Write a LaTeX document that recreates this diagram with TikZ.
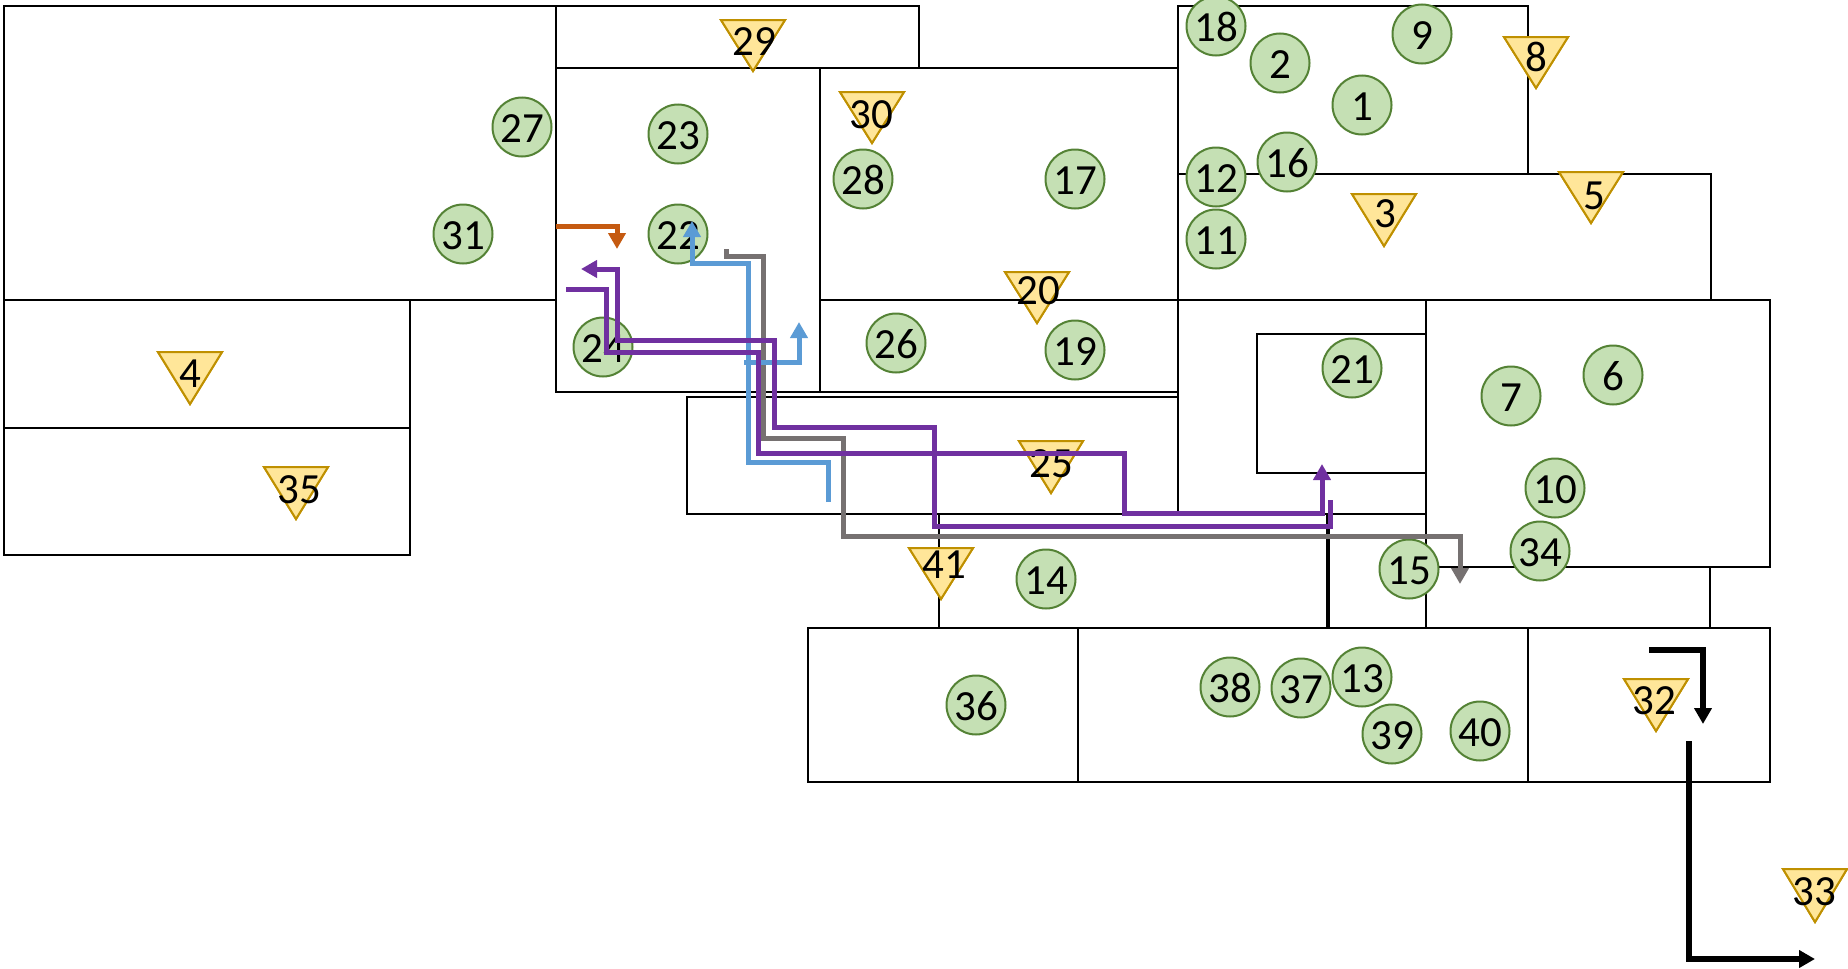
\documentclass[tikz,border=0pt]{standalone}
\usepackage{fontspec}
\setmainfont{Carlito}
\usetikzlibrary{arrows.meta}
\definecolor{circfill}{HTML}{C5E0B4}
\definecolor{circline}{HTML}{548235}
\definecolor{trifill}{HTML}{FFE699}
\definecolor{triline}{HTML}{BF9000}
\definecolor{cpurple}{HTML}{7030A0}
\definecolor{cblue}{HTML}{5B9BD5}
\definecolor{cgray}{HTML}{767171}
\definecolor{corange}{HTML}{C55A11}
\tikzset{
  wall/.style={draw=black,line width=2pt,line join=miter},
  numtext/.style={font=\fontsize{43}{43}\selectfont,inner sep=0pt,text=black},
  sensor/.style={circle,draw=circline,fill=circfill,line width=2pt,minimum size=59pt,inner sep=0pt,numtext,text height=31pt,text depth=0pt},
  beacon/.style={draw=triline,fill=trifill,line width=2pt,line join=miter},
  flow/.style={line width=5pt,line join=miter,-{Triangle[length=16pt,width=17pt]}},
  kflow/.style={line width=5.5pt,line join=miter,-{Triangle[length=16pt,width=17pt]}},
}
\newcommand{\sens}[4]{\node[sensor] (s#1) at (#2,#3) {#4};}
% label, centre x, top, tip, label dx, label dy
\newcommand{\beac}[6]{%
  \fill[beacon] (#2-32,#3) -- (#2+32,#3) -- (#2,#4) -- cycle;
  \draw[beacon] (#2-32,#3) -- (#2+32,#3) -- (#2,#4) -- cycle;
  \node[numtext] (t#1) at (#2+#5,#3+22+#6) {#1};}
\begin{document}
\begin{tikzpicture}[x=1pt,y=-1pt]
\useasboundingbox (0,0) rectangle (1848,969);
% rooms
\draw[wall] (4,6) rectangle (556,300);
\draw[wall] (556,6) rectangle (919,68);
\draw[wall] (556,68) rectangle (820,392);
\draw[wall] (820,68) rectangle (1178,300);
\draw[wall] (820,300) rectangle (1178,392);
\draw[wall] (687,397) rectangle (1178,514);
\draw[wall] (4,300) rectangle (410,428);
\draw[wall] (4,428) rectangle (410,555);
\draw[wall] (1178,6) rectangle (1528,174);
\draw[wall] (1178,174) rectangle (1711,300);
\draw[wall] (1426,300) rectangle (1770,567);
\draw[wall] (1257,334) rectangle (1426,473);
\draw[wall] (1178,300) -- (1178,514);
\draw[wall] (1178,514) -- (1426,514);
\draw[wall] (939,514) -- (939,628);
\draw[wall] (1426,514) -- (1426,628);
\draw[wall] (1710,567) -- (1710,628);
\draw[wall] (808,628) rectangle (1078,782);
\draw[wall] (1078,628) rectangle (1528,782);
\draw[wall] (1528,628) rectangle (1770,782);
\draw[line width=3.6pt] (1328,514) -- (1328,628);
% circles
\sens{27}{522}{127}{27}
\sens{31}{463}{234}{31}
\sens{23}{678}{134}{23}
\sens{22}{678}{234}{22}
\sens{24}{603}{347}{24}
\sens{28}{863}{179}{28}
\sens{17}{1075}{179}{17}
\sens{26}{896}{343}{26}
\sens{19}{1075}{350}{19}
\sens{18}{1216}{26}{18}
\sens{2}{1280}{63}{2}
\sens{1}{1362}{105}{1}
\sens{9}{1422}{34}{9}
\sens{12}{1216}{177}{12}
\sens{16}{1287}{162}{16}
\sens{11}{1216}{239}{11}
\sens{21}{1352}{368}{21}
\sens{7}{1511}{396}{7}
\sens{6}{1613}{375}{6}
\sens{10}{1555}{488}{10}
\sens{34}{1540}{551}{34}
\sens{15}{1409}{569}{15}
\sens{14}{1046}{579}{14}
\sens{36}{976}{705}{36}
\sens{38}{1230}{687}{38}
\sens{37}{1301}{688}{37}
\sens{13}{1362}{677}{13}
\sens{39}{1392}{734}{39}
\sens{40}{1480}{731}{40}
% triangles
\beac{29}{753}{20}{71}{1}{0}
\beac{30}{872}{92}{143}{-1}{1}
\beac{8}{1536}{37}{88}{0}{-2}
\beac{3}{1384}{194}{246}{1}{-2}
\beac{5}{1591}{172}{223}{3}{2}
\beac{20}{1037}{272}{323}{1}{-3}
\beac{4}{190}{352}{404}{0}{0}
\beac{35}{296}{467}{519}{3}{1}
\beac{25}{1051}{441}{493}{0}{1}
\beac{41}{941}{548}{599}{3}{-5}
\beac{32}{1656}{679}{731}{-2}{0}
\beac{33}{1815}{869}{922}{-1}{1}
% connector ends
\coordinate (oS) at (556,226);  \coordinate (oE) at (617,249);
\coordinate (pAS) at (566,289); \coordinate (pAE) at (1322,464);
\coordinate (pBS) at (1330,500);\coordinate (pBE) at (581,269);
\coordinate (gS) at (726,249);  \coordinate (gE) at (1460,584);
\coordinate (bAS) at (828,502); \coordinate (bAE) at (692,221);
\coordinate (bBS) at (744,362); \coordinate (bBE) at (799,322);
\coordinate (kAS) at (1649,650);\coordinate (kAE) at (1703,724);
\coordinate (kBS) at (1689,741);\coordinate (kBE) at (1815,959);
% connectors
\draw[flow,cgray] (gS) -- (726,256) -- (763,256) -- (763,438) -- (843,438) -- (843,536) -- (1460,536) -- (gE);
\draw[flow,cblue] (bAS) -- (828,462) -- (748,462) -- (748,263) -- (692,263) -- (bAE);
\draw[flow,cblue] (bBS) -- (799,362) -- (bBE);
\draw[flow,cpurple] (pAS) -- (606,289) -- (606,352) -- (758,352) -- (758,453) -- (1124,453) -- (1124,513) -- (1322,513) -- (pAE);
\draw[flow,cpurple] (pBS) -- (1330,526) -- (934,526) -- (934,427) -- (774,427) -- (774,340) -- (617,340) -- (617,269) -- (pBE);
\draw[flow,corange] (oS) -- (617,226) -- (oE);
\draw[kflow,black] (kAS) -- (1703,650) -- (kAE);
\draw[kflow,black] (kBS) -- (1689,959) -- (kBE);
\end{tikzpicture}
\end{document}
